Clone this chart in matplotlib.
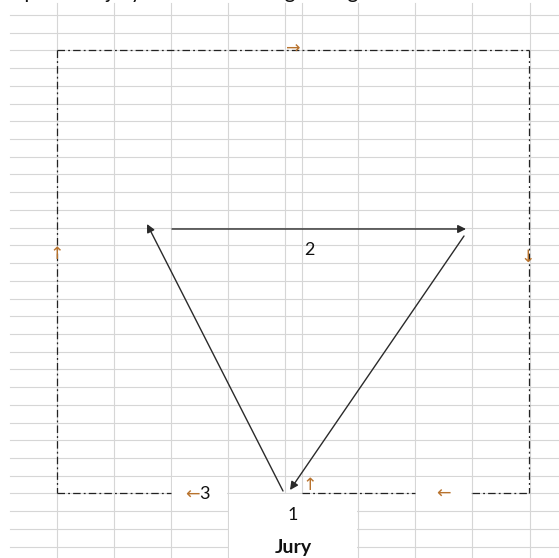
import matplotlib
matplotlib.use("Agg")
from matplotlib import pyplot as plt
from matplotlib.patches import Rectangle

plt.rcParams['font.family'] = ['Lato', 'DejaVu Sans']

# sheet grid (pixel positions of the cell borders)
col_x = [57, 114, 171, 228, 285, 302, 358, 415, 472, 530]
short_cols = [285, 302]          # these stop at the bottom of the frame
row_y = [15 + k * 17.72 for k in range(31)]

# merged white cells: x0, x1, y0, y1
white_cells = [(171, 228, 476, 511), (415, 472, 476, 511), (228, 358, 493, 558)]

# dash-dot frame pieces
frame = [((57, 50), (529, 50)), ((57, 50), (57, 493)), ((529, 50), (529, 493)),
         ((57, 493), (171, 493)), ((302, 493), (415, 493)), ((472, 493), (529, 493))]

# triangle arrows: start, end (head at end)
arrows = [((172, 229), (466, 229)), ((464, 236), (290, 490)), ((283, 491), (147, 224))]

# small arrow signs on the frame
signs = [('→', 293, 49), ('↑', 57, 254), ('↓', 528, 257), ('↑', 310, 485), ('←', 443, 494), ('←', 192, 495)]

# labels
labels = [('3', 204, 494, 'normal', 13), ('2', 309, 250, 'normal', 13), ('1', 293, 515, 'normal', 13),
          ('Jury', 293, 547, 'bold', 14)]
title = 'Spread of jury members during voting'

fig = plt.figure(figsize=(5.59, 5.58), dpi=100)
ax = fig.add_axes([0, 0, 1, 1])
ax.set_xlim(0, 559)
ax.set_ylim(558, 0)
ax.axis('off')

grid_c = '#d6d6d6'
for x in col_x:
    y_end = 493 if x in short_cols else 558
    ax.plot([x, x], [3, y_end], color=grid_c, lw=0.8, zorder=1)
for y in row_y:
    ax.plot([10, 559], [y, y], color=grid_c, lw=0.8, zorder=1)

for x0, x1, y0, y1 in white_cells:
    ax.add_patch(Rectangle((x0 + 1, y0 + 1), x1 - x0 - 2, y1 - y0 - 2,
                           facecolor='white', edgecolor='none', zorder=2))

for (xa, ya), (xb, yb) in frame:
    ax.plot([xa, xb], [ya, yb], color='#222222', lw=0.9,
            dashes=(6, 2.5, 1.5, 2.5), zorder=3)

for (xa, ya), (xb, yb) in arrows:
    ax.annotate('', xy=(xb, yb), xytext=(xa, ya),
                arrowprops=dict(arrowstyle='-|>', color='#2a2a2a', lw=1.0,
                                mutation_scale=12, shrinkA=0, shrinkB=0),
                zorder=4)

for s, x, y in signs:
    ax.text(x, y, s, color='#b8732e', fontsize=12.5, ha='center', va='center',
            family=['DejaVu Sans'], zorder=5)

for s, x, y, w, fs in labels:
    ax.text(x, y, s, color='#111111', fontsize=fs, ha='center', va='center',
            fontweight=w, zorder=5)

# sheet title, cut off by the top edge of the screenshot
ax.text(13, -2.5, title, color='#111111', fontsize=15, ha='left', va='baseline', zorder=5)

fig.savefig('out.png', dpi=100)
